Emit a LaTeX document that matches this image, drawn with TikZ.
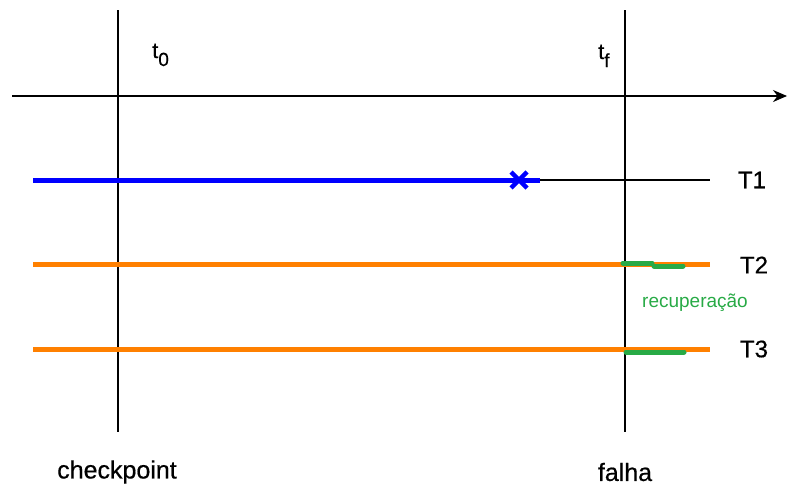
\documentclass[tikz,border=0pt]{standalone}
\usepackage{fontspec}
\setmainfont{Liberation Sans}
\newfontfamily\lblf{Liberation Sans}[FakeBold=0.5]
\usetikzlibrary{arrows.meta}
\definecolor{tblue}{RGB}{0,0,255}
\definecolor{torange}{RGB}{255,128,0}
\definecolor{tgreen}{RGB}{40,170,70}
\newcommand{\tsub}[1]{{\lblf\fontsize{22}{24}\selectfont t}\raisebox{-8pt}{\lblf\fontsize{19}{21}\selectfont #1}}
\begin{document}
\begin{tikzpicture}[x=1pt,y=-1pt,
  lbl/.style={font=\lblf\fontsize{25}{28}\selectfont, inner sep=0pt},
  tl/.style={font=\lblf\fontsize{24}{26}\selectfont, inner sep=0pt},
  vline/.style={line width=2pt},
  task/.style={line width=5pt},
  rec/.style={line width=5pt, tgreen, line cap=round}]
\useasboundingbox (0,0) rectangle (789,493);
% coordinates
\coordinate (v0t) at (118,10); \coordinate (v0b) at (118,432);
\coordinate (vft) at (625,10); \coordinate (vfb) at (625,432);
\coordinate (axs) at (12,96); \coordinate (axe) at (787,96);
\draw[vline] (v0t) -- (v0b);
\draw[vline] (vft) -- (vfb);
\draw[line width=1.6pt,-{Stealth[length=14pt,width=12pt]}] (axs) -- (axe);
\node[inner sep=0pt, anchor=base west] (t0) at (152,58) {\tsub{0}};
\node[inner sep=0pt, anchor=base west] (tf) at (598,59) {\tsub{f}};
% T1
\coordinate (a1) at (33,180); \coordinate (b1) at (540,180); \coordinate (c1) at (710,180);
\draw[line width=1.2pt] (b1) -- (c1);
\draw[task, tblue] (a1) -- (b1);
\node (x1) at (519,180) {};
\draw[tblue, line width=4.5pt] (511,172) -- (527,188) (511,188) -- (527,172);
\node[tl] (T1) at (752,180) {T1};
% T2
\coordinate (a2) at (33,264); \coordinate (c2) at (710,264);
\draw[task, torange] (a2) -- (c2);
\coordinate (g2a) at (623,263); \coordinate (g2b) at (652,263);
\coordinate (g2c) at (654,266); \coordinate (g2d) at (683,266);
\draw[rec] (g2a) -- (g2b);
\draw[rec] (g2c) -- (g2d);
\node[tl] (T2) at (754,265) {T2};
\node[font=\fontsize{19}{21}\selectfont, text=tgreen, inner sep=0pt] (recup) at (695,303) {recuperação};
% T3
\coordinate (a3) at (33,349); \coordinate (c3) at (710,349);
\draw[task, torange] (a3) -- (c3);
\coordinate (g3a) at (626,352); \coordinate (g3b) at (684,352);
\draw[rec] (g3a) -- (g3b);
\node[tl] (T3) at (754,349) {T3};
% bottom labels
\node[lbl] (cp) at (117,472) {checkpoint};
\node[lbl] (fa) at (625,472) {falha};
\end{tikzpicture}
\end{document}
